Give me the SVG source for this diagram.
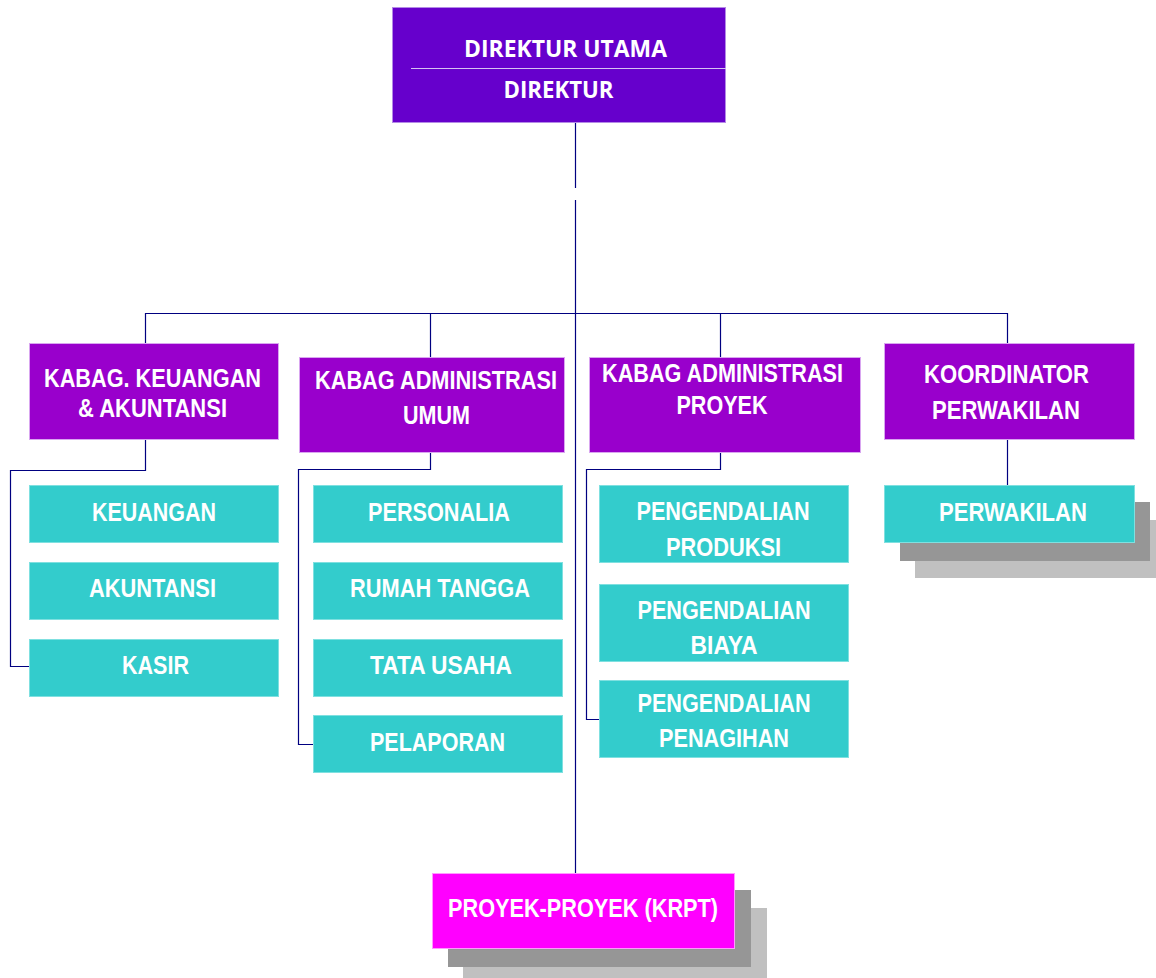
<svg xmlns="http://www.w3.org/2000/svg" width="1156" height="978" viewBox="0 0 1156 978">
<style>
.top{fill:#6600CC;stroke:#b48ae6;stroke-width:1}
.kabag{fill:#9900CC;stroke:#d9a6f0;stroke-width:1}
.sub{fill:#33CCCC;stroke:#7fe0e0;stroke-width:1}
.proj{fill:#FF00FF;stroke:#ff99ff;stroke-width:1}
.sh1{fill:#969696}
.sh2{fill:#C0C0C0}
text{fill:#ffffff;font-family:"Liberation Sans",Arial,sans-serif;font-weight:bold;text-anchor:middle}
.t1{font-family:"Open Sans","Noto Sans",sans-serif;font-size:22.5px}
.t2{font-size:26.5px}
.t3{font-size:25.5px}
.con{fill:none;stroke:#000080;stroke-width:1.2}
</style>
<rect width="1156" height="978" fill="#ffffff"/>
<g id="connectors">
<path class="con" d="M575.5 123 V188 M575.5 200 V873"/>
<path class="con" d="M145.5 343 V313.5 H1007.5 V343 M430.5 313.5 V357 M720.5 313.5 V357"/>
<path class="con" d="M145.5 439 V470.5 H10.5 V666.5 H29"/>
<path class="con" d="M430.5 453 V469.5 H298.5 V744.5 H313"/>
<path class="con" d="M720.5 453 V469.5 H586.5 V719.5 H599"/>
<path class="con" d="M1007.5 439 V485"/>
</g>
<g id="direktur">
<rect class="top" x="392.5" y="7.5" width="333" height="115"/>
<line x1="411" y1="68.5" x2="726" y2="68.5" stroke="#d6c2f2" stroke-width="1"/>
<text class="t1" x="565.5" y="57" textLength="203" lengthAdjust="spacingAndGlyphs">DIREKTUR UTAMA</text>
<text class="t1" x="558.5" y="98" textLength="110" lengthAdjust="spacingAndGlyphs">DIREKTUR</text>
</g>
<g id="kabag-keuangan">
<rect class="kabag" x="29.5" y="343.5" width="249" height="96"/>
<text class="t2" x="152.5" y="387" textLength="217" lengthAdjust="spacingAndGlyphs">KABAG. KEUANGAN</text>
<text class="t2" x="152.5" y="417" textLength="149" lengthAdjust="spacingAndGlyphs">&amp; AKUNTANSI</text>
</g>
<g id="kabag-adm-umum">
<rect class="kabag" x="299.5" y="357.5" width="265" height="95"/>
<text class="t2" x="436" y="389" textLength="242" lengthAdjust="spacingAndGlyphs">KABAG ADMINISTRASI</text>
<text class="t2" x="436.5" y="424" textLength="67" lengthAdjust="spacingAndGlyphs">UMUM</text>
</g>
<g id="kabag-adm-proyek">
<rect class="kabag" x="589.5" y="357.5" width="271" height="95"/>
<text class="t2" x="722.5" y="382" textLength="241" lengthAdjust="spacingAndGlyphs">KABAG ADMINISTRASI</text>
<text class="t2" x="722" y="414" textLength="91" lengthAdjust="spacingAndGlyphs">PROYEK</text>
</g>
<g id="koordinator">
<rect class="kabag" x="884.5" y="343.5" width="250" height="96"/>
<text class="t2" x="1006.5" y="383" textLength="165" lengthAdjust="spacingAndGlyphs">KOORDINATOR</text>
<text class="t2" x="1006" y="419" textLength="148" lengthAdjust="spacingAndGlyphs">PERWAKILAN</text>
</g>
<g id="keuangan">
<rect class="sub" x="29.5" y="485.5" width="249" height="57"/>
<text class="t3" x="154" y="521" textLength="124" lengthAdjust="spacingAndGlyphs">KEUANGAN</text>
</g>
<g id="akuntansi">
<rect class="sub" x="29.5" y="562.5" width="249" height="57"/>
<text class="t3" x="152.5" y="597" textLength="127" lengthAdjust="spacingAndGlyphs">AKUNTANSI</text>
</g>
<g id="kasir">
<rect class="sub" x="29.5" y="639.5" width="249" height="57"/>
<text class="t3" x="155.5" y="674" textLength="67" lengthAdjust="spacingAndGlyphs">KASIR</text>
</g>
<g id="personalia">
<rect class="sub" x="313.5" y="485.5" width="249" height="57"/>
<text class="t3" x="439" y="521" textLength="142" lengthAdjust="spacingAndGlyphs">PERSONALIA</text>
</g>
<g id="rumah-tangga">
<rect class="sub" x="313.5" y="562.5" width="249" height="57"/>
<text class="t3" x="440" y="597" textLength="180" lengthAdjust="spacingAndGlyphs">RUMAH TANGGA</text>
</g>
<g id="tata-usaha">
<rect class="sub" x="313.5" y="639.5" width="249" height="57"/>
<text class="t3" x="441" y="674" textLength="142" lengthAdjust="spacingAndGlyphs">TATA USAHA</text>
</g>
<g id="pelaporan">
<rect class="sub" x="313.5" y="715.5" width="249" height="57"/>
<text class="t3" x="437.5" y="751" textLength="135" lengthAdjust="spacingAndGlyphs">PELAPORAN</text>
</g>
<g id="pengendalian-produksi">
<rect class="sub" x="599.5" y="485.5" width="249" height="77"/>
<text class="t3" x="723" y="520" textLength="173" lengthAdjust="spacingAndGlyphs">PENGENDALIAN</text>
<text class="t3" x="723.5" y="556" textLength="115" lengthAdjust="spacingAndGlyphs">PRODUKSI</text>
</g>
<g id="pengendalian-biaya">
<rect class="sub" x="599.5" y="584.5" width="249" height="77"/>
<text class="t3" x="724" y="619" textLength="173" lengthAdjust="spacingAndGlyphs">PENGENDALIAN</text>
<text class="t3" x="724" y="654" textLength="67" lengthAdjust="spacingAndGlyphs">BIAYA</text>
</g>
<g id="pengendalian-penagihan">
<rect class="sub" x="599.5" y="680.5" width="249" height="77"/>
<text class="t3" x="724" y="712" textLength="173" lengthAdjust="spacingAndGlyphs">PENGENDALIAN</text>
<text class="t3" x="724" y="747" textLength="130" lengthAdjust="spacingAndGlyphs">PENAGIHAN</text>
</g>
<g id="perwakilan">
<rect class="sh2" x="915" y="520" width="241" height="58"/>
<rect class="sh1" x="900" y="502" width="250" height="59"/>
<rect class="sub" x="884.5" y="485.5" width="250" height="57"/>
<text class="t3" x="1013" y="521" textLength="148" lengthAdjust="spacingAndGlyphs">PERWAKILAN</text>
</g>
<g id="proyek-proyek">
<rect class="sh2" x="463" y="908" width="304" height="70"/>
<rect class="sh1" x="448" y="890" width="303" height="77"/>
<rect class="proj" x="432.5" y="873.5" width="302" height="75"/>
<text class="t3" x="583" y="917" textLength="270" lengthAdjust="spacingAndGlyphs">PROYEK-PROYEK (KRPT)</text>
</g>
</svg>
